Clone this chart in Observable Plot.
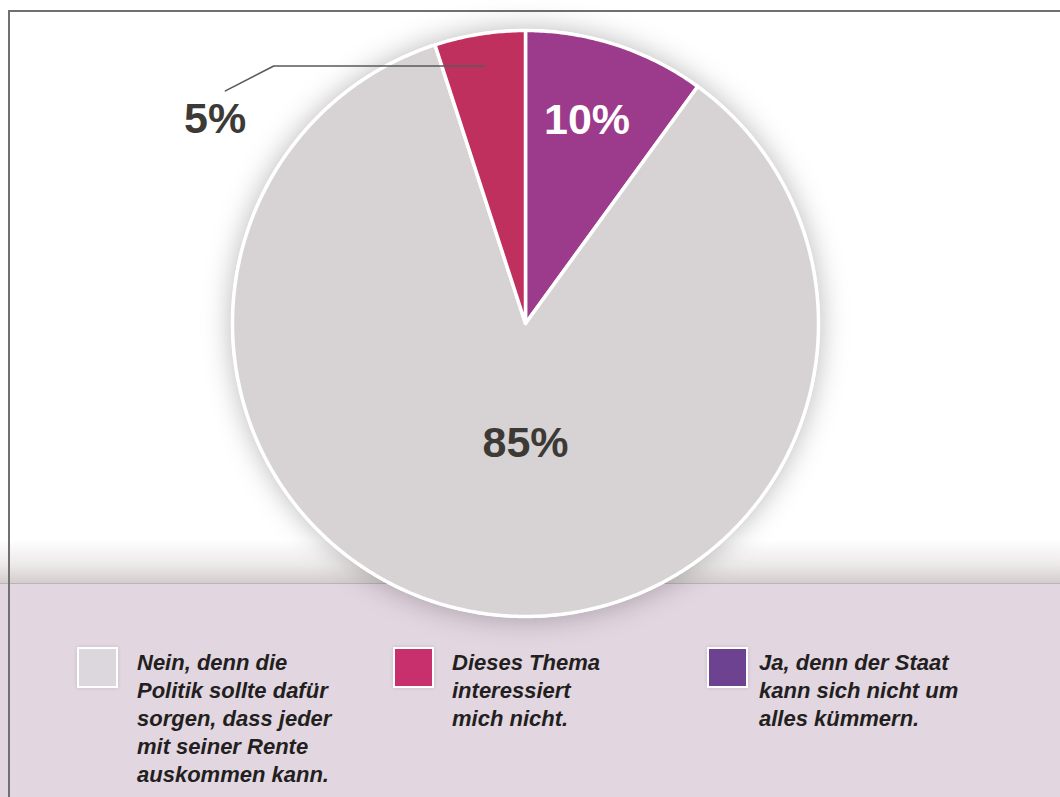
<!DOCTYPE html>
<html><head><meta charset="utf-8">
<script src="https://cdn.jsdelivr.net/npm/d3@7"></script>
<script src="https://cdn.jsdelivr.net/npm/@observablehq/plot@0.6"></script>
<style>
html,body{margin:0;padding:0;background:#fff;}
#wrap{position:relative;width:1060px;height:797px;overflow:hidden;font-family:"Liberation Sans",Arial,sans-serif;background:#fff;}
#shade{position:absolute;left:0;top:540px;width:1060px;height:43px;background:linear-gradient(to bottom, rgba(255,255,255,0) 0%, rgba(235,232,232,1) 60%, #d3cdcd 100%);}
#band{position:absolute;left:0;top:583px;width:1060px;height:214px;background:#e2d6e1;border-top:1px solid #bfb1bb;}
#frameTop{position:absolute;left:8px;top:10px;width:1052px;height:2px;background:#707070;}
#frameLeft{position:absolute;left:8px;top:10px;width:2px;height:787px;background:#707070;}
#chart{position:absolute;left:0;top:0;}
.sw{position:absolute;top:647px;width:37px;height:37px;border:2px solid #fff;box-shadow:0 0 4px rgba(0,0,0,0.12);}
.lt{position:absolute;top:649px;font-style:italic;font-weight:bold;font-size:22px;line-height:28px;color:#231f20;white-space:nowrap;}
</style>
</head>
<body>
<div id="wrap">
  <div id="shade"></div>
  <div id="band"></div>
  <div id="frameTop"></div>
  <div id="frameLeft"></div>
  <div id="chart"></div>
  <div id="legend"></div>
</div>
<script>
// ---- data ----
const categories = ["Ja, denn der Staat kann sich nicht um alles kümmern.",
                    "Nein, denn die Politik sollte dafür sorgen, dass jeder mit seiner Rente auskommen kann.",
                    "Dieses Thema interessiert mich nicht."];
const values = [10, 85, 5];
const valueLabels = ["10%", "85%", "5%"];
const legendLines = [
  ["Ja, denn der Staat", "kann sich nicht um", "alles kümmern."],
  ["Nein, denn die", "Politik sollte dafür", "sorgen, dass jeder", "mit seiner Rente", "auskommen kann."],
  ["Dieses Thema", "interessiert", "mich nicht."]
];
const legendOrder = [1, 2, 0];

// ---- styles ----
const sliceColors = ["#9c3a8b", "#d7d3d4", "#c0305f"];
const swatchColors = ["#6d4290", "#dcd7dc", "#c7306c"];
const labelColors = ["#ffffff", "#3d3a36", "#3d3a36"];

const cx = 525, cy = 323, R = 293;

const pie = d3.pie().sort(null).value(d => d)(values);
const polar = (a, r) => ({x: r * Math.sin(a), y: r * Math.cos(a)});

function slicePoints(s) {
  const pts = [{x: 0, y: 0}];
  const n = Math.max(2, Math.ceil((s.endAngle - s.startAngle) / (Math.PI / 360)));
  for (let i = 0; i <= n; i++) {
    const a = s.startAngle + (s.endAngle - s.startAngle) * i / n;
    pts.push(polar(a, 1));
  }
  return pts;
}
const disc = d3.range(0, 721).map(i => polar(i * Math.PI / 360, 1));

const mid = s => (s.startAngle + s.endAngle) / 2;
// inside labels
const inside = [];
inside.push({...polar(mid(pie[0]), 0.68), t: valueLabels[0], c: labelColors[0]});
inside.push({...polar(Math.PI, 0.454), t: valueLabels[1], c: labelColors[1]});
// outside label with leader for small slice
const p0 = polar(mid(pie[2]), 0.89);
const elbow = {x: p0.x - 0.72, y: p0.y};
const tip = {x: elbow.x - 0.165, y: elbow.y - 0.085};
const leader = [p0, elbow, tip];
const outside = [{x: tip.x - 0.035, y: tip.y - 0.143, t: valueLabels[2], c: labelColors[2]}];
const allLabels = inside.concat(outside);

const marks = [
  Plot.line(disc, {x: "x", y: "y", fill: "#ffffff", stroke: "#ffffff", strokeWidth: 3, curve: "linear-closed"})
];
pie.forEach((s, i) => {
  marks.push(Plot.line(slicePoints(s), {x: "x", y: "y", fill: sliceColors[i], stroke: "#ffffff",
    strokeWidth: 3.5, strokeLinejoin: "round", curve: "linear-closed"}));
});
marks.push(Plot.line(leader, {x: "x", y: "y", stroke: "#5a5a5a", strokeWidth: 1.6}));
marks.push(Plot.text(allLabels, {x: "x", y: "y", text: "t", fill: "c", fontSize: 43, fontWeight: "bold",
  fontFamily: "Liberation Sans, Arial, sans-serif", textAnchor: "middle", lineAnchor: "bottom"}));

const chart = Plot.plot({
  width: 1060, height: 797,
  margin: 0,
  x: {domain: [-1, 1], range: [cx - R, cx + R], axis: null},
  y: {domain: [-1, 1], range: [cy + R, cy - R], axis: null},
  style: {background: "transparent", overflow: "visible"},
  marks
});
const g0 = chart.querySelector("g[aria-label='line']");
if (g0) g0.style.filter = "drop-shadow(0 0 14px rgba(0,0,0,0.28))";
document.getElementById("chart").appendChild(chart);

// ---- legend ----
const legendSwX = [77, 393, 707];
const legendTxX = [137, 452, 759];
const lg = document.getElementById("legend");
legendOrder.forEach((k, j) => {
  const sw = document.createElement("div");
  sw.className = "sw";
  sw.style.left = legendSwX[j] + "px";
  sw.style.background = swatchColors[k];
  lg.appendChild(sw);
  const tx = document.createElement("div");
  tx.className = "lt";
  tx.style.left = legendTxX[j] + "px";
  tx.innerHTML = legendLines[k].join("<br>");
  lg.appendChild(tx);
});
</script>
</body></html>
